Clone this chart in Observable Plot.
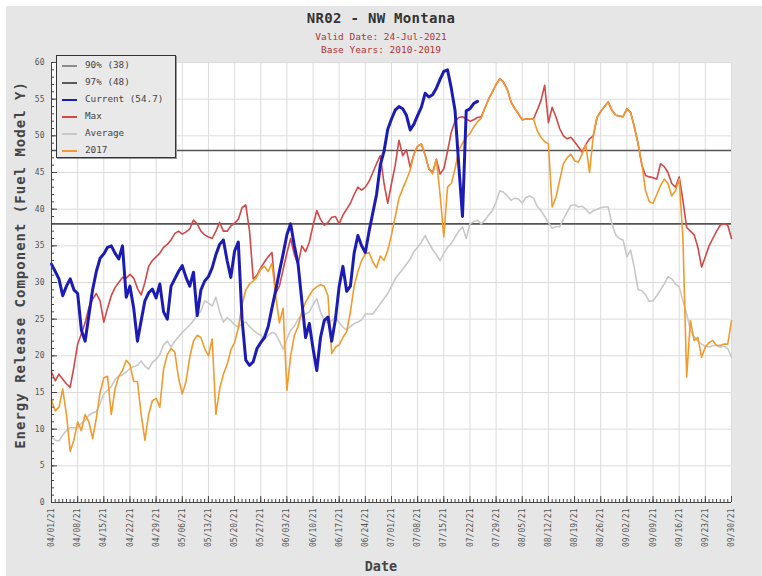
<!DOCTYPE html>
<html>
<head>
<meta charset="utf-8">
<script src="https://cdn.jsdelivr.net/npm/d3@7"></script>
<script src="https://cdn.jsdelivr.net/npm/@observablehq/plot@0.6"></script>
<style>
  html, body { margin: 0; padding: 0; background: #ffffff; }
  #panel { position: absolute; left: 6px; top: 6px; width: 756px; height: 570px; background: #e6e6e6; }
  #chart { position: absolute; left: 0; top: 0; }
  .mono { font-family: "DejaVu Sans Mono", monospace; position: absolute; white-space: nowrap; }
  #title { left: 0; width: 762px; top: 10px; text-align: center; font-size: 14px; font-weight: bold; color: #333; letter-spacing: 0.3px; }
  .sub { left: 0; width: 762px; text-align: center; font-size: 9.5px; color: #b03434; }
  #ylabel { left: 20px; top: 257px; font-size: 14px; font-weight: bold; color: #444; letter-spacing: 1px;
            transform: translate(-50%, 0) rotate(-90deg); transform-origin: 50% 50%; }
  #xlabel { left: 0; width: 762px; top: 558px; text-align: center; font-size: 13.5px; font-weight: bold; color: #444; }
  #legend { left: 56px; top: 55px; width: 118px; height: 101px; background: #e9e9e9; border: 1px solid #333;
            box-shadow: 1px 1px 0 #999; }
  .item { position: absolute; left: 0; height: 17px; width: 118px; }
  .swatch { position: absolute; left: 5px; top: 8px; width: 15px; height: 0; border-top: 2px solid; }
  .lab { position: absolute; left: 28px; top: 2px; font-size: 9.3px; color: #444; }
</style>
</head>
<body>
<div id="panel"></div>
<div id="chart"></div>
<div id="title" class="mono">NR02 - NW Montana</div>
<div class="mono sub" style="top:31px">Valid Date: 24-Jul-2021</div>
<div class="mono sub" style="top:44px">Base Years: 2010-2019</div>
<div id="ylabel" class="mono">Energy Release Component (Fuel Model Y)</div>
<div id="xlabel" class="mono">Date</div>
<div id="legend" class="mono"></div>
<script>
// Daily Energy Release Component values, starting 04/01/2021
const startDay = "2021-04-01";
const endDay = "2021-09-30";

// Current season (through 07/24)
const current = [
  32.5, 31.5, 30.5, 28.2, 29.5, 30.5, 29.0, 28.5, 23.5, 22.0,
  25.5, 29.0, 31.5, 33.3, 33.9, 34.8, 35.0, 34.0, 33.2, 35.0,
  28.0, 29.5, 26.5, 22.0, 24.8, 27.5, 28.6, 29.1, 27.9, 29.8,
  26.0, 25.0, 29.5, 30.5, 31.5, 32.3, 30.7, 29.5, 31.4, 25.5,
  29.0, 30.2, 30.8, 32.0, 33.8, 35.2, 35.8, 33.0, 30.7, 34.3,
  35.5, 25.0, 19.4, 18.7, 19.2, 21.0, 21.8, 22.5, 24.0, 26.5,
  28.9, 31.5, 33.9, 36.5, 38.0, 35.0, 32.5, 27.5, 22.5, 24.4,
  21.0, 18.0, 22.5, 24.8, 25.3, 22.0, 25.0, 29.5, 32.2, 28.8,
  29.5, 34.0, 36.4, 35.0, 34.1, 37.0, 39.5, 42.0, 46.0, 47.9,
  50.9, 52.3, 53.5, 54.0, 53.7, 52.8, 50.8, 51.6, 52.8, 53.9,
  55.8, 55.3, 55.6, 56.5, 57.7, 58.8, 59.0, 56.5, 53.5, 46.0,
  39.0, 53.4, 53.7, 54.4, 54.7
];

// Daily maximum of the base years
const maxValues = [
  17.8, 16.6, 17.5, 16.8, 16.2, 15.7, 18.5, 21.6, 23.0, 24.5,
  26.6, 27.7, 28.5, 27.5, 24.6, 26.5, 28.2, 29.3, 30.0, 30.7,
  30.6, 31.1, 30.6, 29.2, 28.3, 30.0, 32.2, 33.0, 33.5, 34.0,
  34.8, 35.2, 35.8, 36.7, 37.0, 36.6, 36.9, 37.3, 38.5, 38.0,
  37.0, 36.5, 36.2, 36.0, 37.0, 38.2, 37.0, 37.0, 37.7, 38.1,
  38.6, 40.2, 40.6, 37.0, 30.5, 31.0, 32.0, 32.8, 33.5, 34.1,
  28.5, 29.5, 31.8, 34.0, 36.0, 33.8, 32.5, 35.0, 34.2, 35.5,
  37.8, 39.8, 38.6, 37.8, 38.2, 38.9, 39.0, 38.0, 39.2, 40.0,
  40.8, 42.0, 43.0, 42.6, 43.0, 43.8, 45.0, 46.2, 47.3, 43.5,
  40.8, 43.5, 46.0, 49.4, 47.3, 48.1, 45.7, 47.5, 48.6, 48.9,
  47.4, 45.5, 45.0, 46.8, 44.8, 45.5, 47.9, 50.5, 52.0, 52.5,
  52.6, 52.3, 52.0, 52.2, 52.5, 52.6, 53.8, 55.0, 56.0, 57.0,
  57.8, 57.3, 56.3, 54.6, 53.7, 53.0, 52.2, 52.3, 52.3, 52.3,
  53.5, 54.8, 56.9, 51.8, 53.9, 52.6, 51.0, 50.0, 49.6, 49.8,
  49.2, 48.5, 47.8, 48.8, 49.6, 50.0, 52.5, 53.3, 54.0, 54.6,
  53.5, 52.8, 52.7, 52.6, 53.7, 53.2, 51.2, 48.9, 46.0, 44.6,
  44.4, 44.3, 44.1, 46.2, 45.8, 45.0, 43.5, 43.0, 44.4, 41.2,
  37.5, 37.0, 36.5, 34.8, 32.1, 33.5, 35.0, 36.0, 37.0, 37.8,
  38.0, 37.8, 36.0
];

// Daily average of the base years
const averageValues = [
  8.9, 8.5, 8.4, 9.2, 9.8, 10.2, 10.2, 10.2, 10.8, 11.2,
  11.9, 12.2, 12.4, 13.5, 14.8, 15.3, 15.8, 16.8, 17.2, 17.4,
  17.8, 18.3, 18.5, 18.7, 19.3, 18.6, 18.2, 19.1, 19.5, 20.2,
  21.5, 22.0, 21.2, 22.0, 22.6, 23.2, 23.7, 24.2, 24.8, 25.6,
  26.1, 27.5, 27.2, 26.8, 28.0, 26.0, 24.6, 25.2, 24.8, 24.2,
  23.9, 24.4, 24.6, 24.0, 23.5, 23.1, 22.8, 22.2, 22.8, 23.2,
  23.0, 22.0, 20.9, 22.3, 23.5, 24.0, 25.0, 25.5, 25.7, 26.0,
  27.0, 27.8, 26.0, 24.8, 24.5, 24.8, 25.3, 24.5, 23.9, 23.5,
  24.0, 24.4, 24.6, 24.9, 25.7, 25.7, 25.7, 26.4, 27.1, 27.8,
  28.5, 29.5, 30.5, 31.2, 31.8, 32.5, 33.2, 34.2, 34.8, 35.5,
  36.4, 35.4, 34.5, 33.8, 33.0, 34.0, 34.8, 35.3, 36.2, 37.0,
  37.6, 36.0, 38.0, 38.3, 38.5, 38.0, 38.5, 39.2, 39.8, 41.0,
  42.5, 42.3, 41.8, 41.2, 41.5, 41.4, 40.8, 41.6, 41.8, 41.5,
  40.4, 39.8, 39.0, 38.2, 37.4, 37.6, 37.6, 38.6, 39.6, 40.5,
  40.6, 40.3, 40.4, 40.0, 39.4, 39.8, 40.0, 40.2, 40.3, 40.3,
  38.0, 36.5, 36.0, 35.8, 33.5, 34.4, 32.0, 29.0, 28.9, 28.3,
  27.4, 27.5, 28.2, 29.0, 29.8, 30.8, 30.5, 29.8, 29.4, 27.5,
  25.7, 23.5, 22.6, 22.0, 21.6, 21.3, 21.2, 21.4, 21.4, 21.2,
  21.3, 21.0, 19.8
];

// Season 2017
const values2017 = [
  13.9, 12.5, 13.0, 15.5, 12.0, 7.0, 8.5, 11.0, 9.8, 12.0,
  11.0, 8.7, 11.5, 15.0, 17.0, 17.2, 12.0, 15.5, 17.2, 18.0,
  19.4, 18.8, 16.5, 16.5, 12.0, 8.5, 12.0, 13.9, 14.2, 13.0,
  18.2, 20.2, 21.0, 20.5, 17.0, 14.8, 16.5, 19.8, 22.0, 22.8,
  22.5, 21.0, 20.0, 22.3, 12.0, 15.5, 17.5, 18.8, 20.8, 21.8,
  23.8, 27.0, 29.0, 29.8, 30.2, 30.8, 31.8, 32.2, 31.5, 32.6,
  28.2, 24.5, 26.5, 15.3, 20.0, 22.8, 24.0, 26.0, 27.3, 28.2,
  29.0, 29.4, 29.7, 29.5, 28.2, 20.3, 21.2, 21.5, 22.5, 23.3,
  26.0, 29.5, 31.5, 33.0, 33.9, 34.1, 32.8, 32.0, 33.6, 33.0,
  34.4, 36.5, 39.0, 41.5, 42.8, 44.0, 45.3, 47.5, 48.6, 48.9,
  47.4, 45.5, 44.8, 46.8, 42.0, 36.2, 43.0, 43.5, 45.5, 48.0,
  49.0, 49.8, 50.3, 51.2, 51.9, 52.4, 53.8, 55.0, 56.0, 57.0,
  57.8, 57.3, 56.3, 54.6, 53.7, 53.0, 52.2, 52.3, 52.3, 52.3,
  50.7, 49.8, 49.2, 48.9, 40.3, 41.6, 43.9, 46.2, 47.0, 47.5,
  46.6, 46.4, 47.5, 48.8, 45.0, 50.0, 52.5, 53.3, 54.0, 54.6,
  53.5, 52.8, 52.7, 52.6, 53.7, 53.2, 51.2, 48.9, 46.2, 42.5,
  41.0, 40.8, 42.0, 43.2, 44.1, 43.5, 41.8, 42.5, 44.1, 36.0,
  17.1, 24.8, 22.1, 22.5, 19.8, 21.2, 21.8, 22.1, 21.4, 21.4,
  21.6, 21.6, 24.8
];

// Percentile thresholds
const pct90 = 38;
const pct97 = 48;

// Legend entries
const legendLabels = ["90% (38)", "97% (48)", "Current (54.7)", "Max", "Average", "2017"];
const legendColors = ["#8c8c8c", "#5a5a5a", "#1c1cb4", "#d24848", "#c8c8c8", "#f39a2c"];

// ---- build the chart ----
const start = new Date(startDay + "T00:00:00Z");
const end = new Date(endDay + "T00:00:00Z");
const rows = vals => vals.map((v, i) => ({date: d3.utcDay.offset(start, i), value: v}));
const nDays = d3.utcDay.count(start, end) + 1;
const allDays = d3.range(nDays).map(i => d3.utcDay.offset(start, i));
const weekTicks = d3.range(0, nDays, 7).map(i => d3.utcDay.offset(start, i));

const W = 762, H = 576;
const mL = 51, mR = 31, mT = 62, mB = 74;
const plotW = W - mL - mR, plotH = H - mT - mB;
const axisColor = "#444";

const chart = Plot.plot({
  width: W, height: H,
  marginLeft: mL, marginRight: mR, marginTop: mT, marginBottom: mB,
  style: {background: "transparent", fontFamily: "'DejaVu Sans Mono', monospace", fontSize: "8px", color: "#555"},
  x: {type: "utc", domain: [start, end]},
  y: {domain: [0, 60]},
  marks: [
    Plot.frame({fill: "white", stroke: null}),
    Plot.gridX(weekTicks, {stroke: "#dcdcdc", strokeOpacity: 1}),
    Plot.gridY(d3.range(5, 61, 5), {stroke: "#dcdcdc", strokeOpacity: 1}),
    Plot.ruleY([pct90, pct97], {stroke: "#555", strokeWidth: 1.6}),
    Plot.line(rows(averageValues), {x: "date", y: "value", stroke: legendColors[4], strokeWidth: 1.6}),
    Plot.line(rows(maxValues), {x: "date", y: "value", stroke: legendColors[3], strokeWidth: 1.6}),
    Plot.line(rows(values2017), {x: "date", y: "value", stroke: legendColors[5], strokeWidth: 1.6}),
    Plot.line(rows(current), {x: "date", y: "value", stroke: legendColors[2], strokeWidth: 3, strokeLinejoin: "round"}),
    // inward minor / major ticks
    Plot.tickY(d3.range(0, 61, 1), {y: d => d, stroke: axisColor, insetRight: plotW - 3}),
    Plot.tickY(d3.range(0, 61, 5), {y: d => d, stroke: axisColor, insetRight: plotW - 6}),
    Plot.tickX(allDays, {x: d => d, stroke: axisColor, insetTop: plotH - 3}),
    Plot.tickX(weekTicks, {x: d => d, stroke: axisColor, insetTop: plotH - 6}),
    Plot.ruleX([start], {stroke: axisColor}),
    Plot.ruleY([0], {stroke: axisColor}),
    Plot.axisX(weekTicks, {tickFormat: d3.utcFormat("%m/%d/%y"), tickRotate: -90, tickSize: 0, tickPadding: 6, label: null, fill: "#555"}),
    Plot.axisY(d3.range(0, 61, 5), {tickSize: 0, tickPadding: 7, label: null, fill: "#555"})
  ]
});
document.getElementById("chart").appendChild(chart);

// legend
const legend = document.getElementById("legend");
legendLabels.forEach((lab, i) => {
  const item = document.createElement("div");
  item.className = "item";
  item.style.top = (1 + i * 17) + "px";
  const sw = document.createElement("div");
  sw.className = "swatch";
  sw.style.borderTopColor = legendColors[i];
  const t = document.createElement("div");
  t.className = "lab";
  t.textContent = lab;
  item.appendChild(sw);
  item.appendChild(t);
  legend.appendChild(item);
});
</script>
</body>
</html>
